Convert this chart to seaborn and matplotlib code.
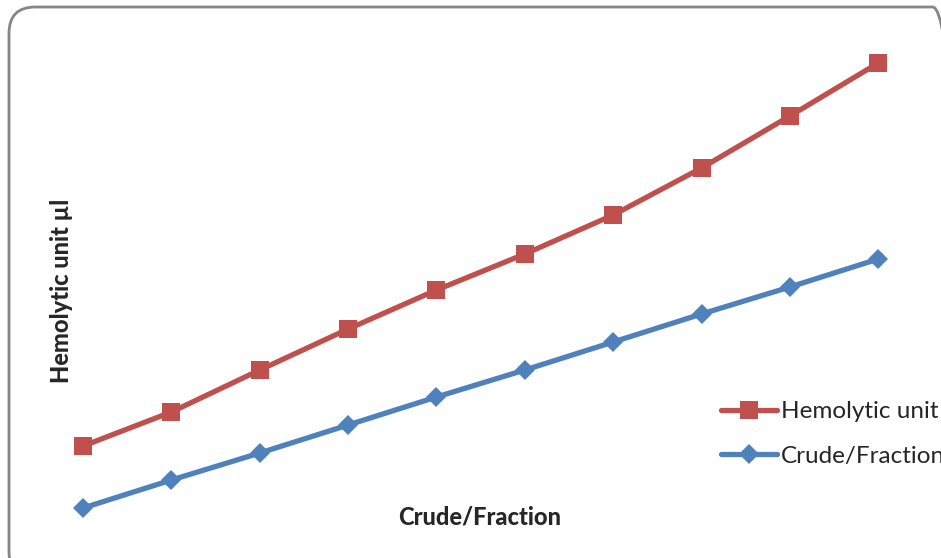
import numpy as np
import pandas as pd
import matplotlib
matplotlib.use('Agg')
import matplotlib.pyplot as plt
from matplotlib.patches import FancyBboxPatch
import seaborn as sns

# --- data (arbitrary units, no axis scale shown) ---
POINTS = list(range(1, 11))
HEMOLYTIC = [74, 108, 150, 191, 230, 266, 305, 352, 404, 457]
CRUDE = [12, 40, 67, 95, 123, 150, 178, 206, 233, 261]
SERIES = ['Hemolytic unit', 'Crude/Fraction']

RED = '#C0504D'
BLUE = '#4F81BD'
MSIZE = {SERIES[0]: 13.5, SERIES[1]: 10.5}

sns.set_style('white')
plt.rcParams['font.family'] = ['Lato', 'DejaVu Sans']

df = pd.DataFrame({
    'point': POINTS * 2,
    'value': HEMOLYTIC + CRUDE,
    'series': [SERIES[0]] * len(POINTS) + [SERIES[1]] * len(POINTS),
})

fig = plt.figure(figsize=(9.41, 5.58), dpi=100)
ax = fig.add_axes([0, 0, 1, 1])

sns.lineplot(data=df, x='point', y='value', hue='series', style='series',
             hue_order=SERIES, style_order=SERIES,
             palette={SERIES[0]: RED, SERIES[1]: BLUE},
             markers={SERIES[0]: 's', SERIES[1]: 'D'}, dashes=False,
             linewidth=3.8, markeredgewidth=0, ax=ax)

# per-series marker size
for line, name in zip(ax.lines, SERIES):
    line.set_markersize(MSIZE[name])

ax.set_xlim(0.06, 10.71)
ax.set_ylim(-38, 520)
ax.set_xticks([])
ax.set_yticks([])
ax.set_xlabel('')
ax.set_ylabel('')
for s in ax.spines.values():
    s.set_visible(False)

# rounded chart frame
frame = FancyBboxPatch((9 / 941, -20 / 558), 950 / 941, (551 + 20) / 558,
                       boxstyle='round,pad=0,rounding_size=0.028',
                       transform=fig.transFigure, fill=False,
                       edgecolor='#868686', linewidth=2, zorder=0,
                       mutation_aspect=941 / 558)
fig.patches.append(frame)

fig.text(62 / 941, 1 - 291 / 558, 'Hemolytic unit µl', rotation=90,
         ha='center', va='center', fontsize=17, fontweight='black')
fig.text(480 / 941, 1 - 517 / 558, 'Crude/Fraction',
         ha='center', va='center', fontsize=17, fontweight='black')

leg = ax.legend(loc='center left', bbox_to_anchor=(721 / 941, 1 - 434 / 558),
                frameon=False, fontsize=17.5, handlelength=2.3,
                handletextpad=0.15, labelspacing=0.95, borderaxespad=0,
                borderpad=0)
for h, name in zip(leg.legend_handles, SERIES):
    h.set_markersize(MSIZE[name])
    h.set_linewidth(3.8)

fig.savefig('out.png', dpi=100)
